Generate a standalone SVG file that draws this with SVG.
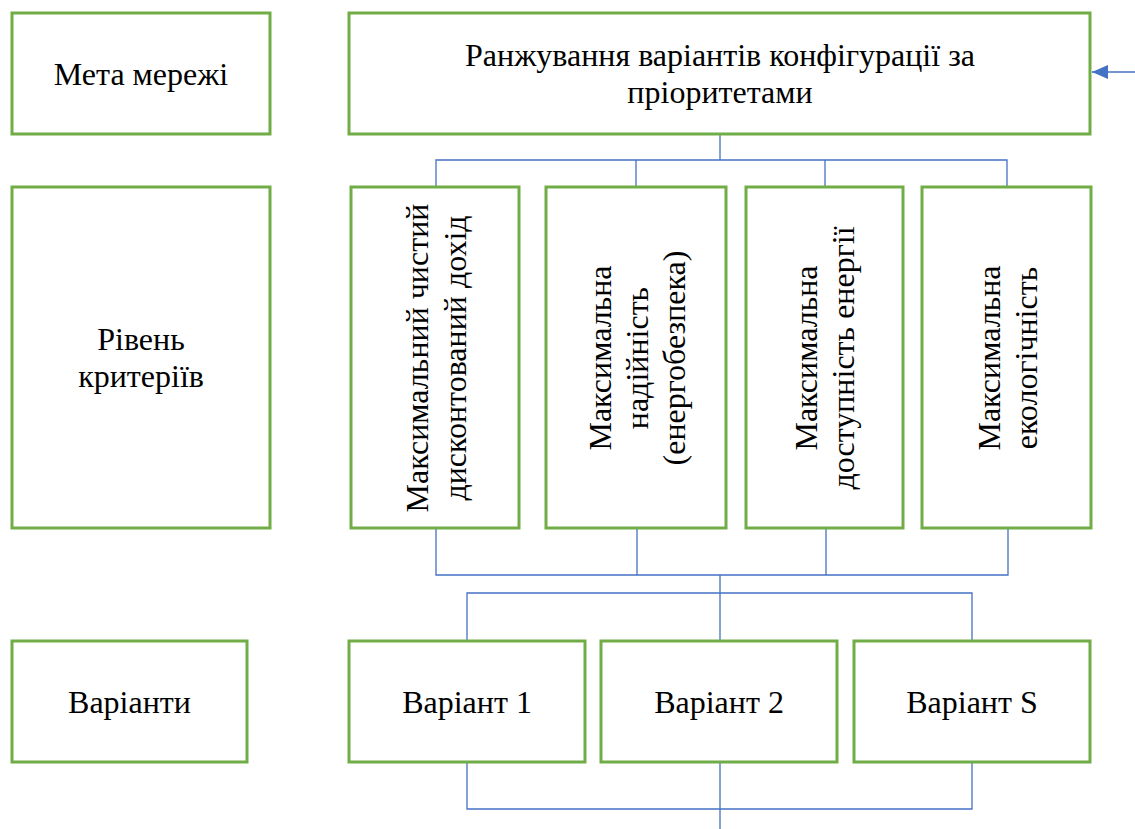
<svg xmlns="http://www.w3.org/2000/svg" width="1135" height="829" viewBox="0 0 1135 829">
<defs>
<style>
.box{fill:#ffffff;stroke:#70AD47;stroke-width:3}
.t{font-family:"Liberation Serif","Times New Roman",serif;font-size:32px;fill:#000;text-anchor:middle}
.c{fill:none;stroke:#4472C4;stroke-width:1.3}
</style>
<marker id="ah" markerWidth="16" markerHeight="14" refX="16" refY="7" orient="auto" markerUnits="userSpaceOnUse">
<path d="M0,0 L16,7 L0,14 Z" fill="#4472C4"/>
</marker>
</defs>
<rect width="1135" height="829" fill="#ffffff"/>
<g id="connectors">
<path class="c" d="M1135,72 L1092,72" marker-end="url(#ah)"/>
<path class="c" d="M720,134 V160 M436,186 V160 H1007 V186 M636,160 V186 M825,160 V186"/>
<path class="c" d="M436,528 V575 H1008 V528 M637,528 V575 M826,528 V575 M720,575 V640 M467,640 V593 H972 V640"/>
<path class="c" d="M467,762 V809 H972 V762 M720,762 V829"/>
</g>
<g id="goal-label"><rect class="box" x="12" y="13" width="258" height="121"/><text class="t" x="141" y="85">Мета мережі</text></g>
<g id="goal"><rect class="box" x="349" y="13" width="741" height="121"/><text class="t" x="720" y="66">Ранжування варіантів конфігурації за</text><text class="t" x="720" y="103">пріоритетами</text></g>
<g id="criteria-label"><rect class="box" x="12" y="187" width="258" height="341"/><text class="t" x="141" y="350">Рівень</text><text class="t" x="141" y="387">критеріїв</text></g>
<g id="crit1"><rect class="box" x="351" y="187" width="168" height="341"/><text class="t" transform="translate(428,358) rotate(-90)">Максимальний чистий</text><text class="t" transform="translate(466,358) rotate(-90)">дисконтований дохід</text></g>
<g id="crit2"><rect class="box" x="546" y="187" width="180" height="341"/><text class="t" transform="translate(611,358) rotate(-90)">Максимальна</text><text class="t" transform="translate(648,358) rotate(-90)">надійність</text><text class="t" transform="translate(685,358) rotate(-90)">(енергобезпека)</text></g>
<g id="crit3"><rect class="box" x="746" y="187" width="157" height="341"/><text class="t" transform="translate(817,358) rotate(-90)">Максимальна</text><text class="t" transform="translate(854,358) rotate(-90)">доступність енергії</text></g>
<g id="crit4"><rect class="box" x="922" y="187" width="169" height="341"/><text class="t" transform="translate(1000,358) rotate(-90)">Максимальна</text><text class="t" transform="translate(1037,358) rotate(-90)">екологічність</text></g>
<g id="variants-label"><rect class="box" x="12" y="641" width="235" height="121"/><text class="t" x="129.5" y="713">Варіанти</text></g>
<g id="var1"><rect class="box" x="349" y="641" width="236" height="121"/><text class="t" x="467" y="713">Варіант 1</text></g>
<g id="var2"><rect class="box" x="601" y="641" width="236" height="121"/><text class="t" x="719" y="713">Варіант 2</text></g>
<g id="varS"><rect class="box" x="854" y="641" width="236" height="121"/><text class="t" x="972" y="713">Варіант S</text></g>
</svg>
